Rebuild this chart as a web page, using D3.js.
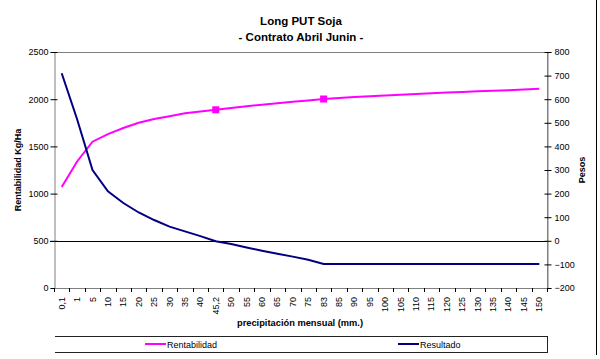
<!DOCTYPE html>
<html>
<head>
<meta charset="utf-8">
<script src="https://cdn.jsdelivr.net/npm/d3@7"></script>
<style>
  html, body { margin: 0; padding: 0; background: #fff; }
  svg { display: block; font-family: "Liberation Sans", Arial, sans-serif; }
</style>
</head>
<body>
<svg id="chart" width="600" height="359"></svg>
<script>
// ---- data ----
const categories = ["0,1","1","5","10","15","20","25","30","35","40","45,2","50","55","60","65","70","75","83","85","90","95","100","105","110","115","120","125","130","135","140","145","150"];
const rentabilidad = [1070,1340,1550,1630,1695,1750,1790,1820,1850,1870,1888,1908,1925,1942,1958,1972,1986,2002,2012,2022,2031,2040,2048,2056,2063,2070,2077,2084,2090,2096,2102,2110];
const resultado = [710,515,300,210,160,120,88,60,40,20,-2,-14,-28,-42,-55,-67,-80,-98,-98,-98,-98,-98,-98,-98,-98,-98,-98,-98,-98,-98,-98,-98];
const markedCategories = ["45,2","83"];
const leftTicks = [0,500,1000,1500,2000,2500];
const rightTicks = [-200,-100,0,100,200,300,400,500,600,700,800];
const titleLines = ["Long PUT Soja","- Contrato Abril Junin -"];

// ---- layout ----
const L = 54, R = 547, T = 52, B = 288;
const svg = d3.select("#chart");

const x = d3.scaleBand().domain(categories).range([L, R]).padding(0);
const yL = d3.scaleLinear().domain([0, 2500]).range([B, T]);
const yR = d3.scaleLinear().domain([-200, 800]).range([B, T]);
const cx = c => x(c) + x.bandwidth() / 2;

// titles
svg.selectAll("text.title").data(titleLines).enter().append("text")
  .attr("x", 301).attr("y", (d, i) => 25 + i * 16)
  .attr("text-anchor", "middle").attr("font-weight", "bold").attr("font-size", 11.5)
  .attr("fill", "#000").text(d => d);

// plot frame (top, right)
svg.append("line").attr("x1", L).attr("x2", R).attr("y1", T + 0.5).attr("y2", T + 0.5).attr("stroke", "#808080");
svg.append("line").attr("x1", R + 0.5).attr("x2", R + 0.5).attr("y1", T).attr("y2", B).attr("stroke", "#808080");

// left axis
const gL = svg.append("g").attr("transform", `translate(${L + 0.5},0)`)
  .call(d3.axisLeft(yL).tickValues(leftTicks).tickSize(4).tickFormat(d3.format("d")));
gL.select(".domain").attr("stroke", "#808080");
gL.selectAll(".tick line").attr("stroke", "#000").attr("x2", -4).attr("x1", 3);
gL.selectAll(".tick text").attr("font-size", 9).attr("font-family", "Liberation Sans, Arial, sans-serif").attr("x", -6);

// right axis
const gR = svg.append("g").attr("transform", `translate(${R + 0.5},0)`)
  .call(d3.axisRight(yR).tickValues(rightTicks).tickSize(4).tickFormat(d3.format("d")));
gR.select(".domain").attr("stroke", "#808080");
gR.selectAll(".tick line").attr("stroke", "#000").attr("x1", -3).attr("x2", 4);
gR.selectAll(".tick text").attr("font-size", 9).attr("font-family", "Liberation Sans, Arial, sans-serif").attr("x", 7);

// bottom axis
svg.append("line").attr("x1", L).attr("x2", R).attr("y1", B + 0.5).attr("y2", B + 0.5).attr("stroke", "#808080");
const bounds = categories.map(c => x(c)).concat([R]);
svg.selectAll("line.xtick").data(bounds).enter().append("line")
  .attr("x1", d => Math.round(d) + 0.5).attr("x2", d => Math.round(d) + 0.5)
  .attr("y1", B).attr("y2", B + 4).attr("stroke", "#000");
svg.selectAll("text.xlab").data(categories).enter().append("text")
  .attr("transform", d => `translate(${cx(d) + 3},297) rotate(-90)`)
  .attr("text-anchor", "end").attr("font-size", 9).attr("fill", "#000").text(d => d);

// zero line (right axis 0)
svg.append("line").attr("x1", L - 4).attr("x2", R).attr("y1", Math.round(yR(0)) + 0.5).attr("y2", Math.round(yR(0)) + 0.5).attr("stroke", "#000");

// axis titles
svg.append("text").attr("transform", `translate(21,${(T + B) / 2}) rotate(-90)`)
  .attr("text-anchor", "middle").attr("font-weight", "bold").attr("font-size", 9).text("Rentabilidad Kg/Ha");
svg.append("text").attr("transform", `translate(585,${(T + B) / 2}) rotate(-90)`)
  .attr("text-anchor", "middle").attr("font-weight", "bold").attr("font-size", 9).text("Pesos");
svg.append("text").attr("x", 300).attr("y", 326)
  .attr("text-anchor", "middle").attr("font-weight", "bold").attr("font-size", 9.3).text("precipitación mensual (mm.)");

// series lines
const lineL = d3.line().x((d, i) => cx(categories[i])).y(d => yL(d));
const lineR = d3.line().x((d, i) => cx(categories[i])).y(d => yR(d));
svg.append("path").attr("d", lineL(rentabilidad)).attr("fill", "none").attr("stroke", "#FF00FF").attr("stroke-width", 2);
svg.append("path").attr("d", lineR(resultado)).attr("fill", "none").attr("stroke", "#000080").attr("stroke-width", 2);

// markers
svg.selectAll("rect.mk").data(markedCategories).enter().append("rect")
  .attr("x", d => cx(d) - 3.5).attr("y", d => yL(rentabilidad[categories.indexOf(d)]) - 3.5)
  .attr("width", 7).attr("height", 7).attr("fill", "#FF00FF");

// legend
svg.append("line").attr("x1", 55).attr("x2", R).attr("y1", 336.5).attr("y2", 336.5).attr("stroke", "#222");
svg.append("line").attr("x1", 55).attr("x2", R).attr("y1", 352.5).attr("y2", 352.5).attr("stroke", "#222");
svg.append("line").attr("x1", R + 0.5).attr("x2", R + 0.5).attr("y1", 336).attr("y2", 353).attr("stroke", "#222");
const legendItems = [{name: "Rentabilidad", color: "#FF00FF", x: 145}, {name: "Resultado", color: "#000080", x: 398}];
legendItems.forEach(it => {
  svg.append("line").attr("x1", it.x).attr("x2", it.x + 21).attr("y1", 344).attr("y2", 344).attr("stroke", it.color).attr("stroke-width", 2);
  svg.append("text").attr("x", it.x + 22).attr("y", 347.5).attr("font-size", 9).text(it.name);
});

// chart outer border (right)
svg.append("line").attr("x1", 596.5).attr("x2", 596.5).attr("y1", 0).attr("y2", 355).attr("stroke", "#000");
</script>
</body>
</html>
